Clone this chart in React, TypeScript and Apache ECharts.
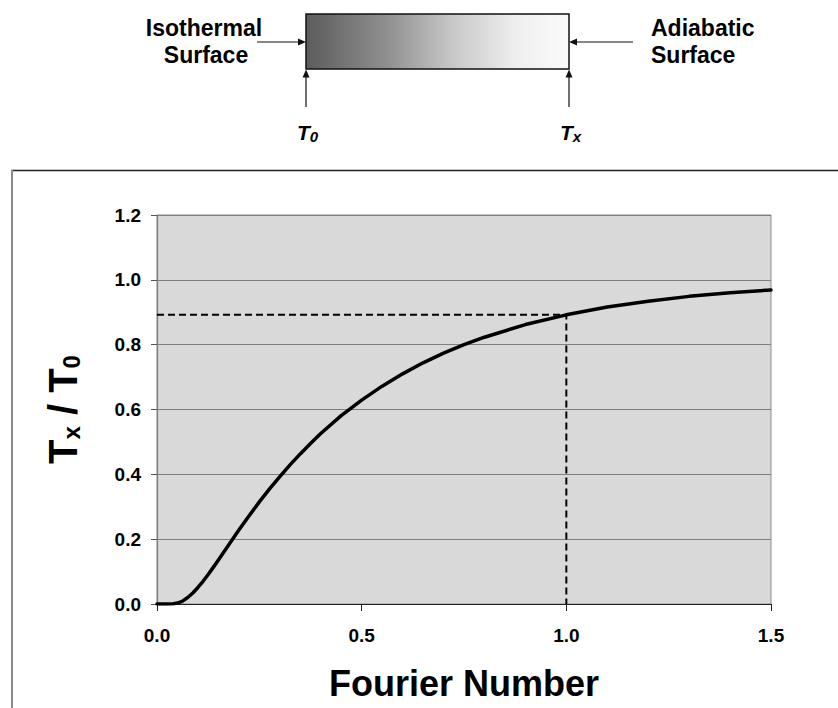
import React, { useEffect, useRef } from "react";
import * as echarts from "echarts";

// Fourier number (x) and temperature ratio Tx/T0 at the adiabatic surface (y)
const fourierNumber = [
  0, 0.025, 0.04, 0.05, 0.0625, 0.075, 0.0875, 0.1, 0.1125, 0.125, 0.1375, 0.15, 0.1625, 0.175, 0.1875,
  0.2, 0.225, 0.25, 0.275, 0.3, 0.325, 0.35, 0.375, 0.4, 0.45, 0.5, 0.55, 0.6, 0.65, 0.7, 0.75, 0.8,
  0.9, 1.0, 1.1, 1.2, 1.3, 1.4, 1.5,
];
const tempRatio = [
  0, 0, 0.001, 0.003, 0.009, 0.02, 0.034, 0.051, 0.07, 0.091, 0.113, 0.136, 0.159, 0.182, 0.205,
  0.228, 0.272, 0.315, 0.355, 0.393, 0.429, 0.463, 0.495, 0.526, 0.581, 0.629, 0.672, 0.71, 0.744, 0.774, 0.8, 0.823,
  0.862, 0.892, 0.916, 0.934, 0.949, 0.96, 0.969,
];

// Dashed reference guide (Fo = 1.0)
const refFourier = [0, 1.0, 1.0];
const refRatio = [0.892, 0.892, 0];

const xTicks = { min: 0, max: 1.5, interval: 0.5 };
const yTicks = { min: 0, max: 1.2, interval: 0.2 };

const FONT = '"Liberation Sans", Arial, sans-serif';

function arrowHead(tipX: number, tipY: number, dir: "right" | "left" | "up") {
  const len = 8;
  const half = 3.5;
  let pts: number[][];
  if (dir === "right") pts = [[tipX, tipY], [tipX - len, tipY - half], [tipX - len, tipY + half]];
  else if (dir === "left") pts = [[tipX, tipY], [tipX + len, tipY - half], [tipX + len, tipY + half]];
  else pts = [[tipX, tipY], [tipX - half, tipY + len], [tipX + half, tipY + len]];
  return { type: "polygon", shape: { points: pts }, style: { fill: "#111" } };
}

export default function App() {
  const ref = useRef<HTMLDivElement>(null);
  useEffect(() => {
    if (!ref.current) return;
    const chart = echarts.init(ref.current, null, { renderer: "svg" });
    const curve = fourierNumber.map((f, i) => [f, tempRatio[i]]);
    const guide = refFourier.map((f, i) => [f, refRatio[i]]);
    const labelStyle = { fontFamily: FONT, fontWeight: "bold" as const, fontSize: 19, color: "#000" };
    chart.setOption({
      animation: false,
      backgroundColor: "#fff",
      grid: {
        left: 157,
        top: 215,
        right: 67,
        bottom: 104,
        show: true,
        backgroundColor: "#D9D9D9",
        borderColor: "#8c8c8c",
        borderWidth: 1,
      },
      xAxis: {
        type: "value",
        min: xTicks.min,
        max: xTicks.max,
        interval: xTicks.interval,
        name: "Fourier Number",
        nameLocation: "middle",
        nameGap: 61,
        nameTextStyle: { fontFamily: FONT, fontWeight: "bold", fontSize: 36, color: "#000" },
        axisLine: { show: true, onZero: false, lineStyle: { color: "#222", width: 1.2 } },
        axisTick: { show: true, length: 7, lineStyle: { color: "#222", width: 1 } },
        axisLabel: { ...labelStyle, margin: 22, formatter: (v: number) => v.toFixed(1) },
        splitLine: { show: false },
      },
      yAxis: {
        type: "value",
        min: yTicks.min,
        max: yTicks.max,
        interval: yTicks.interval,
        name: "{t|T}{s|x}{t| / T}{s|0}",
        nameLocation: "middle",
        nameRotate: 90,
        nameGap: 74,
        nameTextStyle: {
          rich: {
            t: { fontFamily: FONT, fontWeight: "bold", fontSize: 40, color: "#000" },
            s: { fontFamily: FONT, fontWeight: "bold", fontSize: 24, color: "#000", verticalAlign: "bottom", padding: [16, 0, 0, 0] },
          },
        },
        axisLine: { show: true, lineStyle: { color: "#7f7f7f", width: 1.2 } },
        axisTick: { show: true, length: 6, lineStyle: { color: "#555", width: 1 } },
        axisLabel: { ...labelStyle, margin: 16, formatter: (v: number) => v.toFixed(1) },
        splitLine: { show: true, lineStyle: { color: "#7f7f7f", width: 1 } },
      },
      series: [
        {
          type: "line",
          data: guide,
          showSymbol: false,
          lineStyle: { color: "#000", width: 2, type: [7, 4] },
          z: 2,
        },
        {
          type: "line",
          data: curve,
          showSymbol: false,
          smooth: false,
          lineStyle: { color: "#000", width: 3.5, join: "round", cap: "round" },
          z: 3,
        },
      ],
      graphic: [
        // outer chart frame
        { type: "line", shape: { x1: 11, y1: 170.5, x2: 840, y2: 170.5 }, style: { stroke: "#222", lineWidth: 1.5 } },
        { type: "line", shape: { x1: 12, y1: 170, x2: 12, y2: 710 }, style: { stroke: "#8a8a8a", lineWidth: 2 } },
        // slab
        {
          type: "rect",
          shape: { x: 306, y: 14, width: 263, height: 55 },
          style: {
            fill: new echarts.graphic.LinearGradient(0, 0, 1, 0, [
              { offset: 0, color: "#5c5c5c" },
              { offset: 0.3, color: "#8e8e8e" },
              { offset: 0.55, color: "#c6c6c6" },
              { offset: 0.8, color: "#efefef" },
              { offset: 1, color: "#fafafa" },
            ]),
            stroke: "#111",
            lineWidth: 1.5,
          },
        },
        // horizontal arrows
        { type: "line", shape: { x1: 257, y1: 42, x2: 300, y2: 42 }, style: { stroke: "#111", lineWidth: 1.2 } },
        arrowHead(306, 42, "right"),
        { type: "line", shape: { x1: 575, y1: 42, x2: 633, y2: 42 }, style: { stroke: "#111", lineWidth: 1.2 } },
        arrowHead(569, 42, "left"),
        // vertical arrows
        { type: "line", shape: { x1: 306, y1: 76, x2: 306, y2: 107 }, style: { stroke: "#111", lineWidth: 1.2 } },
        arrowHead(306, 69.5, "up"),
        { type: "line", shape: { x1: 569, y1: 76, x2: 569, y2: 107 }, style: { stroke: "#111", lineWidth: 1.2 } },
        arrowHead(569, 69.5, "up"),
        // labels
        { type: "text", x: 204, y: 28, style: { text: "Isothermal", fontFamily: FONT, fontWeight: "bold", fontSize: 23, fill: "#000", align: "center", verticalAlign: "middle" } },
        { type: "text", x: 206, y: 55, style: { text: "Surface", fontFamily: FONT, fontWeight: "bold", fontSize: 23, fill: "#000", align: "center", verticalAlign: "middle" } },
        { type: "text", x: 651, y: 28, style: { text: "Adiabatic", fontFamily: FONT, fontWeight: "bold", fontSize: 23, fill: "#000", align: "left", verticalAlign: "middle" } },
        { type: "text", x: 651, y: 55, style: { text: "Surface", fontFamily: FONT, fontWeight: "bold", fontSize: 23, fill: "#000", align: "left", verticalAlign: "middle" } },
        {
          type: "text",
          x: 297,
          y: 132,
          style: {
            text: "{t|T}{s|0}",
            align: "left",
            verticalAlign: "middle",
            rich: {
              t: { fontFamily: FONT, fontWeight: "bold", fontStyle: "italic", fontSize: 21, fill: "#000" },
              s: { fontFamily: FONT, fontWeight: "bold", fontStyle: "italic", fontSize: 15, fill: "#000", verticalAlign: "bottom", padding: [8, 0, 0, 0] },
            },
          },
        },
        {
          type: "text",
          x: 560,
          y: 132,
          style: {
            text: "{t|T}{s|x}",
            align: "left",
            verticalAlign: "middle",
            rich: {
              t: { fontFamily: FONT, fontWeight: "bold", fontStyle: "italic", fontSize: 21, fill: "#000" },
              s: { fontFamily: FONT, fontWeight: "bold", fontStyle: "italic", fontSize: 15, fill: "#000", verticalAlign: "bottom", padding: [8, 0, 0, 0] },
            },
          },
        },
      ],
    });
    return () => chart.dispose();
  }, []);
  return <div ref={ref} style={{ position: "absolute", left: 0, top: 0, width: 838, height: 708 }} />;
}
